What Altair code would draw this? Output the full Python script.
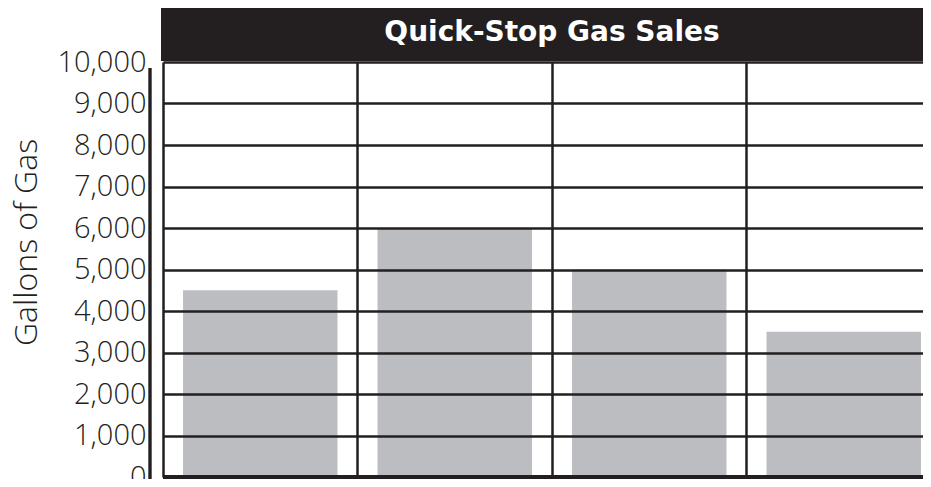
import altair as alt
import pandas as pd

title_text = "Quick-Stop Gas Sales"
y_title = "Gallons of Gas"
categories = ["Week 1", "Week 2", "Week 3", "Week 4"]
gallons = [4500, 6000, 5000, 3500]
y_ticks = [0, 1000, 2000, 3000, 4000, 5000, 6000, 7000, 8000, 9000, 10000]

df = pd.DataFrame({"cat": categories, "gallons": gallons})

INK = "#231f20"
FONT = "Open Sans"
TFONT = "DejaVu Sans"

x_enc = alt.X(
    "cat:N",
    sort=categories,
    scale=alt.Scale(paddingInner=0.206, paddingOuter=0.103, range=[0, 778]),
    axis=alt.Axis(
        title=None, labels=False, ticks=False, domain=False, grid=True,
        gridColor=INK, gridWidth=2.5, gridOpacity=1, bandPosition=-0.1297, zindex=1,
    ),
)
y_enc = alt.Y(
    "gallons:Q",
    scale=alt.Scale(domain=[0, 10000], nice=False),
    axis=alt.Axis(
        title=y_title, values=y_ticks, format=",d", grid=True, gridColor=INK,
        gridWidth=2.5, gridOpacity=1, domain=False, ticks=False, tickSize=0,
        labelPadding=17, labelFont=FONT, labelFontSize=29, labelColor=INK,
        labelFontWeight=300, labelOverlap=False, labelBound=False, labelFlush=False,
        titleFont=FONT, titleFontSize=32, titleFontWeight=300, titleColor=INK,
        titleX=-127, titleY=180, titleBaseline="alphabetic", titleAngle=270, zindex=1,
    ),
)

bars = alt.Chart(df).mark_bar(color="#bcbdc0").encode(x=x_enc, y=y_enc)

bottom = alt.Chart(df).mark_rule(color=INK, strokeWidth=4).encode(y=alt.datum(0))

axis_line = alt.Chart(df).mark_rule(color=INK, strokeWidth=2.5).encode(
    x=alt.value(-13), y=alt.value(6), y2=alt.value(430)
)

title_bar = alt.Chart(df).mark_rect(color=INK).encode(
    x=alt.value(-2), x2=alt.value(800), y=alt.value(-56), y2=alt.value(-1)
)

title_df = pd.DataFrame({"t": [title_text]})
title = alt.Chart(title_df).mark_text(
    color="white", font=TFONT, fontWeight="bold", fontSize=28, align="center", baseline="middle"
).encode(x=alt.value(389), y=alt.value(-29), text="t:N")

chart = alt.layer(bars, bottom, axis_line, title_bar, title).properties(
    width=760,
    height=415,
    autosize=alt.AutoSizeParams(type="none"),
    padding={"left": 155, "top": 54, "right": 0, "bottom": 2},
).configure_view(stroke=None)

chart.save("out.html", embed_options={"renderer": "svg", "actions": False})
